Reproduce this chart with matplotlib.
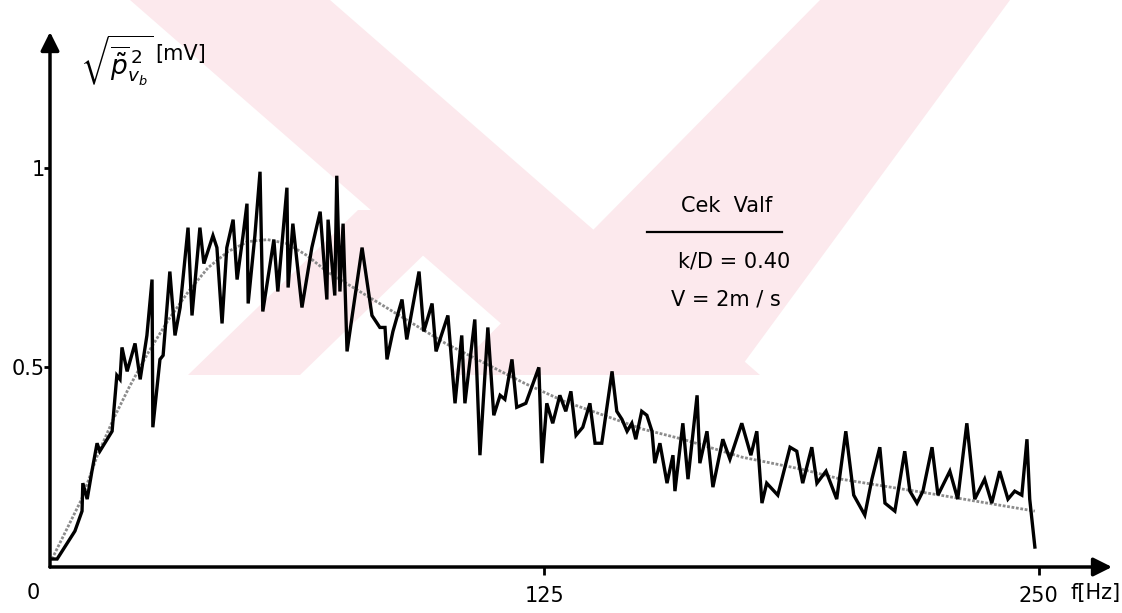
import numpy as np
import matplotlib
matplotlib.use('Agg')
import matplotlib.pyplot as plt
from matplotlib.patches import Polygon

# measured spectrum (f in Hz, rms pressure in mV)
freq = [0.5, 1.8, 6.3, 8.1, 8.3, 9.4, 10.6, 11.9, 12.6, 15.7, 16.9, 17.7, 18.2, 19.5,
        21.5, 22.8, 24.5, 25.8, 26.0, 27.8, 28.6, 30.3, 31.6, 32.9, 34.9, 35.9, 37.9,
        38.9, 41.2, 42.2, 43.5, 44.7, 46.3, 47.3, 48.8, 49.8, 50.1, 51.8, 53.1, 53.8,
        56.6, 57.6, 59.9, 60.2, 61.4, 63.7, 66.2, 68.3, 70.0, 70.3, 72.0, 72.5, 73.3,
        74.1, 75.1, 78.9, 81.4, 83.4, 84.7, 85.2, 86.7, 89.0, 90.2, 93.3, 94.5, 96.6,
        97.6, 100.6, 102.4, 104.1, 104.9, 107.4, 108.7, 110.7, 112.2, 113.8, 115.0,
        116.8, 118.0, 120.3, 123.6, 124.4, 125.6, 127.1, 128.9, 130.4, 131.7, 133.0,
        134.7, 136.5, 137.8, 139.5, 142.1, 143.3, 144.6, 145.9, 147.1, 148.1, 149.6,
        150.9, 152.2, 152.9, 154.2, 156.0, 157.5, 158.0, 160.0, 161.3, 163.6, 164.3,
        166.1, 167.6, 170.1, 171.9, 174.9, 177.2, 178.7, 180.0, 181.2, 184.0, 187.1,
        188.8, 190.3, 192.6, 193.9, 196.2, 198.9, 201.2, 203.2, 206.0, 207.8, 209.8,
        211.1, 213.6, 216.1, 217.4, 219.2, 220.7, 223.0, 224.5, 227.5, 229.5, 231.8,
        233.8, 236.3, 238.1, 240.1, 242.2, 243.9, 245.7, 247.0, 247.7, 249.0]
p_rms = [0.02, 0.02, 0.09, 0.14, 0.21, 0.17, 0.24, 0.31, 0.29, 0.34, 0.48, 0.47, 0.55, 0.49,
         0.56, 0.47, 0.58, 0.72, 0.35, 0.52, 0.53, 0.74, 0.58, 0.65, 0.85, 0.63, 0.85,
         0.76, 0.83, 0.80, 0.61, 0.80, 0.87, 0.72, 0.83, 0.91, 0.66, 0.83, 0.99, 0.64,
         0.82, 0.69, 0.95, 0.70, 0.86, 0.65, 0.80, 0.89, 0.67, 0.87, 0.68, 0.98, 0.69,
         0.86, 0.54, 0.80, 0.63, 0.60, 0.60, 0.52, 0.59, 0.67, 0.57, 0.74, 0.59, 0.66,
         0.54, 0.63, 0.41, 0.58, 0.41, 0.62, 0.28, 0.60, 0.38, 0.43, 0.42,
         0.52, 0.40, 0.41, 0.50, 0.26, 0.41, 0.36, 0.43, 0.39, 0.44, 0.33,
         0.35, 0.41, 0.31, 0.31, 0.49, 0.39, 0.37, 0.34, 0.36, 0.32, 0.39,
         0.38, 0.34, 0.26, 0.31, 0.21, 0.28, 0.19, 0.36, 0.22, 0.43, 0.26,
         0.34, 0.20, 0.32, 0.27, 0.36, 0.28, 0.34, 0.16, 0.21, 0.18, 0.30,
         0.29, 0.21, 0.30, 0.21, 0.24, 0.17, 0.34, 0.18, 0.13, 0.22, 0.30,
         0.16, 0.14, 0.29, 0.19, 0.16, 0.19, 0.30, 0.18, 0.24, 0.17, 0.36,
         0.17, 0.22, 0.16, 0.24, 0.17, 0.19, 0.18, 0.32, 0.17, 0.05]

# smoothed trend drawn through the spectrum
fit_f = [0.5, 4, 8, 12, 16, 20, 25, 30, 35, 40, 45, 50, 55, 60, 65, 70, 80, 90, 100,
         110, 120, 130, 140, 150, 160, 175, 190, 200, 225, 249]
fit_v = [0.02, 0.09, 0.17, 0.28, 0.37, 0.45, 0.54, 0.62, 0.69, 0.75, 0.79, 0.815, 0.82,
         0.81, 0.78, 0.74, 0.68, 0.62, 0.56, 0.51, 0.46, 0.415, 0.38, 0.345, 0.32,
         0.275, 0.245, 0.22, 0.18, 0.14]

x_ticks = [125, 250]
x_tick_labels = ['125', '250']
y_ticks = [0.5, 1]
y_tick_labels = ['0.5', '1']

W, H = 1122, 613
fig = plt.figure(figsize=(W / 100, H / 100), dpi=100)

# pale watermark behind everything, in pixel coords (y from top)
bg = fig.add_axes([0, 0, 1, 1], zorder=-1)
bg.set_xlim(0, W)
bg.set_ylim(H, 0)
bg.axis('off')
pink = '#fce9ed'
bands = [
    [(130, 0), (330, 0), (760, 375), (560, 375)],
    [(820, 0), (1010, 0), (735, 375), (450, 375)],
    [(188, 375), (300, 375), (470, 210), (358, 210)],
]
for pts in bands:
    bg.add_patch(Polygon(pts, closed=True, facecolor=pink, edgecolor='none'))

ax = fig.add_axes([50 / W, (H - 567) / H, (1112 - 50) / W, (567 - 32) / H])
ax.patch.set_alpha(0)
ax.set_xlim(0, 268.5)
ax.set_ylim(0, 1.34)

ax.plot(fit_f, fit_v, color='0.55', lw=2.0, ls=(0, (1, 0.6)), zorder=3)
ax.plot(freq, p_rms, color='black', lw=2.4, solid_joinstyle='miter', zorder=4)

for s in ax.spines.values():
    s.set_visible(False)
for tip in [(1, 0), (0, 1)]:
    ax.annotate('', xy=tip, xytext=(0, 0), xycoords='axes fraction',
                arrowprops=dict(arrowstyle='-|>', lw=2.5, color='black',
                                mutation_scale=28, shrinkA=0, shrinkB=0))

fs = 15
ax.set_xticks(x_ticks)
ax.set_xticklabels(x_tick_labels, fontsize=fs)
ax.set_yticks(y_ticks)
ax.set_yticklabels(y_tick_labels, fontsize=fs)
ax.tick_params(axis='x', direction='out', length=6, width=2, pad=8)
ax.tick_params(axis='y', direction='out', length=4, width=2, pad=0)
ax.text(-2.5, -0.065, '0', fontsize=fs, ha='right', va='center')
ax.text(258, -0.065, 'f[Hz]', fontsize=fs, ha='left', va='center')

# y label: sqrt of mean square pressure
ax.text(7.5, 1.27, r'$\sqrt{\overline{\tilde{p}}^{\,2}_{v_b}}$', fontsize=19,
        ha='left', va='center', clip_on=False)
ax.text(26.5, 1.285, '[mV]', fontsize=fs, ha='left', va='center')

ax.text(171, 0.88, 'Cek  Valf', fontsize=fs, ha='center', va='bottom')
ax.plot([151, 185], [0.84, 0.84], color='black', lw=1.6)
ax.text(173, 0.765, 'k/D = 0.40', fontsize=fs, ha='center', va='center')
ax.text(171, 0.67, 'V = 2m / s', fontsize=fs, ha='center', va='center')

fig.savefig('out.png', dpi=100)
